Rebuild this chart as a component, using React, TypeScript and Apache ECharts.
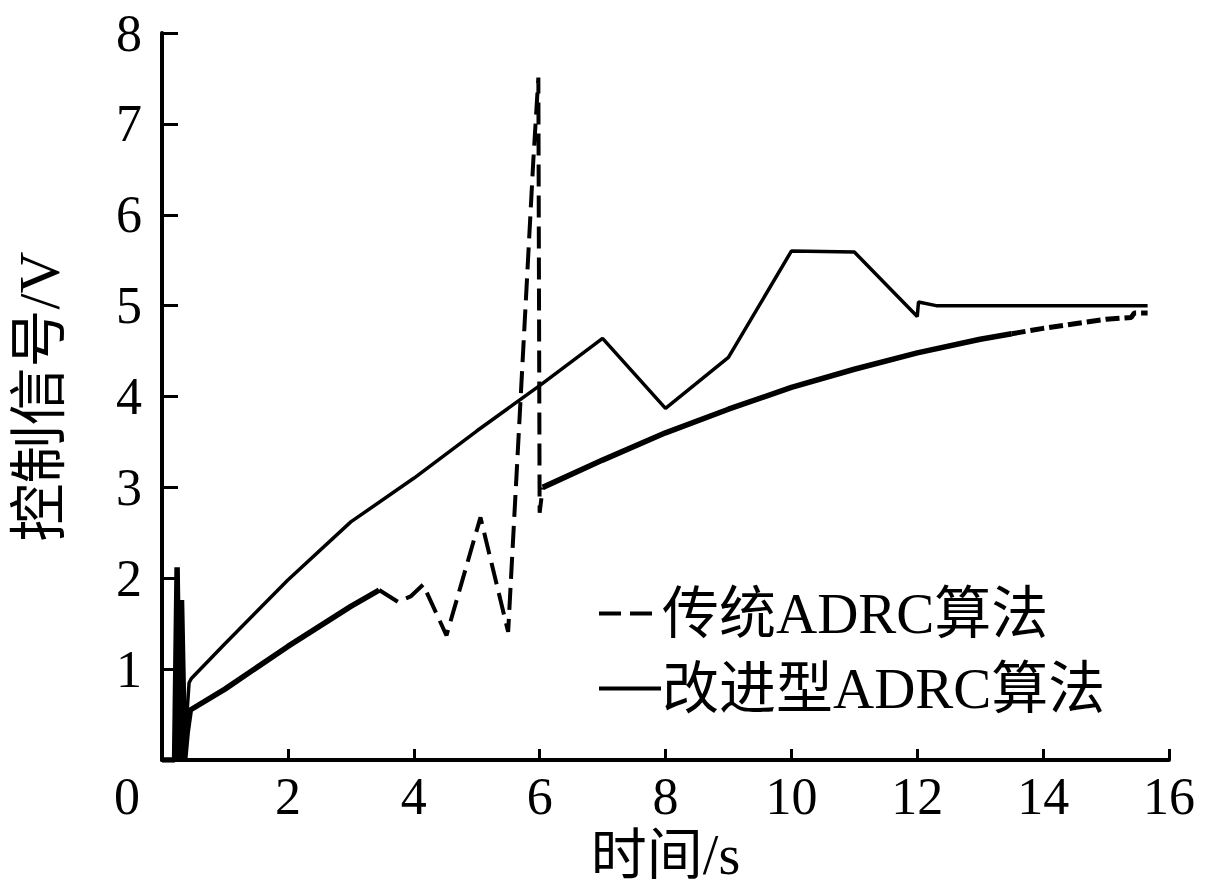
import React, { useEffect, useRef } from 'react';
import * as echarts from 'echarts';

// time (s) / control signal (V)
const tradStart = [
  [0, 0], [0.2, 0], [0.24, 2.12], [0.28, 0], [0.31, 1.76], [0.36, 0], [0.4, 0.3],
  [0.45, 0.55], [1, 0.78], [2, 1.25], [3, 1.69], [3.45, 1.87]
];
const tradOsc = [
  [3.45, 1.87], [3.75, 1.74], [3.95, 1.8], [4.15, 1.93], [4.52, 1.37], [5.06, 2.67],
  [5.5, 1.41], [5.9, 6.6], [5.98, 7.51], [6.0, 2.72], [6.05, 3.0]
];
const tradTail = [
  [6.05, 3.0], [7, 3.3], [8, 3.6], [9, 3.86], [10, 4.1], [11, 4.3], [12, 4.48],
  [13, 4.63], [13.5, 4.69]
];
const tradEnd = [
  [13.5, 4.69], [14, 4.75], [15, 4.85], [15.4, 4.87], [15.45, 4.92], [15.66, 4.92]
];
const improved = [
  [0, 0], [0.2, 0], [0.3, 0.3], [0.4, 0.55], [0.43, 0.85], [0.47, 0.9], [1, 1.28],
  [2, 1.98], [3, 2.62], [4, 3.1], [5, 3.62], [6, 4.12], [7, 4.64], [8, 3.87],
  [9, 4.43], [10, 5.6], [11, 5.59], [12, 4.88], [12.02, 5.04], [12.3, 5.0], [15.66, 5.0]
];
const legendNames = ['传统ADRC算法', '改进型ADRC算法'];

const FONT = '"Liberation Serif", "Times New Roman", "Noto Sans CJK SC", serif';

const App: React.FC = () => {
  const chartRef = useRef<HTMLDivElement>(null);

  useEffect(() => {
    document.body.style.margin = '0';
    if (!chartRef.current) return;
    const chart = echarts.init(chartRef.current, null, { renderer: 'svg' });

    const tradLine = (data: number[][], width: number, type: any) => ({
      name: legendNames[0],
      type: 'line',
      data,
      symbol: 'none',
      lineStyle: { color: '#000', width, type },
      itemStyle: { color: '#000' }
    });

    chart.setOption({
      animation: false,
      backgroundColor: '#fff',
      grid: { left: 162, right: 38, top: 33, bottom: 134 },
      legend: {
        data: legendNames,
        orient: 'vertical',
        left: 592,
        top: 580,
        itemWidth: 62,
        itemHeight: 20,
        itemGap: 18,
        itemStyle: { opacity: 0 },
        lineStyle: { width: 4 },
        textStyle: { color: '#000', fontSize: 57, fontFamily: FONT, padding: [0, 0, 0, -4] }
      },
      xAxis: {
        type: 'value',
        min: 0,
        max: 16,
        interval: 2,
        name: '时间/s',
        nameLocation: 'middle',
        nameGap: 58,
        nameTextStyle: { color: '#000', fontSize: 56, fontFamily: FONT },
        axisLine: { lineStyle: { color: '#000', width: 4 } },
        axisTick: { inside: true, length: 11, lineStyle: { color: '#000', width: 3 } },
        splitLine: { show: false },
        axisLabel: {
          color: '#000',
          fontSize: 52,
          fontFamily: FONT,
          margin: 10,
          formatter: (v: number) => (v === 0 ? '{z|0}' : String(v)),
          rich: { z: { fontSize: 52, fontFamily: FONT, color: '#000', padding: [0, 70, 0, 0] } }
        }
      },
      yAxis: {
        type: 'value',
        min: 0,
        max: 8,
        interval: 1,
        name: '控制信号/V',
        nameLocation: 'middle',
        nameGap: 94,
        nameTextStyle: { color: '#000', fontSize: 58, fontFamily: FONT },
        axisLine: { show: true, lineStyle: { color: '#000', width: 4 } },
        axisTick: { show: true, inside: true, length: 16, lineStyle: { color: '#000', width: 3 } },
        splitLine: { show: false },
        axisLabel: {
          color: '#000',
          fontSize: 52,
          fontFamily: FONT,
          margin: 20,
          formatter: (v: number) => (v === 0 ? '' : String(v))
        }
      },
      series: [
        tradLine(tradOsc, 4, [22, 9]),
        tradLine(tradStart, 5.5, 'solid'),
        tradLine(tradTail, 5.5, 'solid'),
        tradLine(tradEnd, 5, [14, 5]),
        {
          name: legendNames[1],
          type: 'line',
          data: improved,
          symbol: 'none',
          lineStyle: { color: '#000', width: 3.5 },
          itemStyle: { color: '#000' }
        }
      ]
    });

    return () => {
      chart.dispose();
    };
  }, []);

  return <div ref={chartRef} style={{ width: 1207, height: 894 }} />;
};

export default App;
